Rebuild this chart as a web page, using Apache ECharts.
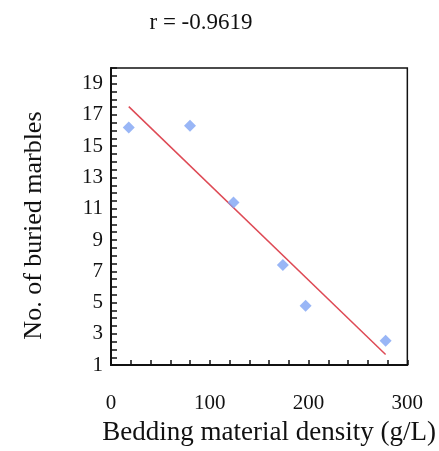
<!DOCTYPE html>
<html>
<head>
<meta charset="utf-8">
<script src="https://cdn.jsdelivr.net/npm/echarts@6/dist/echarts.min.js"></script>
<style>
  html, body { margin: 0; padding: 0; background: #ffffff; }
  #chart { width: 439px; height: 451px; }
</style>
</head>
<body>
<div id="chart"></div>
<script>
// Bedding material density (g/L) vs. number of buried marbles
const density = [18, 80, 124, 174, 197, 278];
const marbles = [16.2, 16.3, 11.4, 7.4, 4.8, 2.55];
const rLabel = 'r = -0.9619';
const xTickLabels = [0, 100, 200, 300];
const yTickLabels = [1, 3, 5, 7, 9, 11, 13, 15, 17, 19];

// Least-squares trend line through the measured points
function linearFit(xs, ys) {
  const n = xs.length;
  const mx = xs.reduce((a, b) => a + b, 0) / n;
  const my = ys.reduce((a, b) => a + b, 0) / n;
  let sxy = 0, sxx = 0;
  for (let i = 0; i < n; i++) {
    sxy += (xs[i] - mx) * (ys[i] - my);
    sxx += (xs[i] - mx) * (xs[i] - mx);
  }
  const slope = sxy / sxx;
  return { slope, intercept: my - slope * mx };
}
const fit = linearFit(density, marbles);
const xFirst = Math.min(...density);
const xLast = Math.max(...density);
const trend = [
  [xFirst, fit.intercept + fit.slope * xFirst],
  [xLast, fit.intercept + fit.slope * xLast]
];

const serif = '"Liberation Serif", "Times New Roman", serif';
const chart = echarts.init(document.getElementById('chart'), null, { renderer: 'canvas' });

chart.setOption({
  backgroundColor: '#ffffff',
  animation: false,
  title: {
    text: rLabel,
    left: 196,
    top: 6,
    textAlign: 'center',
    textStyle: { fontFamily: serif, fontSize: 23, fontWeight: 'normal', color: '#111' }
  },
  grid: {
    left: 111, right: 30, top: 68, bottom: 85,
    show: true, borderColor: '#111', borderWidth: 1.5, backgroundColor: 'transparent'
  },
  xAxis: {
    type: 'value',
    min: 0, max: 300, interval: 20,
    name: 'Bedding material density (g/L)',
    nameLocation: 'middle',
    nameGap: 44,
    nameTextStyle: { fontFamily: serif, fontSize: 27, color: '#111', padding: [0, 0, 0, 20] },
    axisLine: { show: true, lineStyle: { color: '#111', width: 2 } },
    axisTick: { show: true, inside: true, length: 5, lineStyle: { color: '#111', width: 1.5 } },
    splitLine: { show: false },
    axisLabel: {
      margin: 28,
      fontFamily: serif, fontSize: 21, color: '#111',
      formatter: v => (xTickLabels.includes(v) ? String(v) : '')
    }
  },
  yAxis: {
    type: 'value',
    min: 1, max: 20, interval: 0.5,
    name: 'No. of buried marbles',
    nameLocation: 'middle',
    nameGap: 64,
    nameTextStyle: { fontFamily: serif, fontSize: 26, color: '#111', padding: [0, 18, 0, 0] },
    axisLine: { show: true, lineStyle: { color: '#111', width: 2 } },
    axisTick: { show: true, inside: true, length: 6, lineStyle: { color: '#111', width: 1.5 } },
    splitLine: { show: false },
    axisLabel: {
      margin: 8,
      fontFamily: serif, fontSize: 21, color: '#111',
      formatter: v => (yTickLabels.includes(v) ? String(v) : '')
    }
  },
  series: [
    {
      type: 'line',
      data: trend,
      symbol: 'none',
      lineStyle: { color: '#de4a55', width: 1.5 },
      z: 2
    },
    {
      type: 'scatter',
      data: density.map((x, i) => [x, marbles[i]]),
      symbol: 'diamond',
      symbolSize: [12, 12],
      itemStyle: { color: '#7fa4f4' },
      z: 3
    }
  ]
});
</script>
</body>
</html>
